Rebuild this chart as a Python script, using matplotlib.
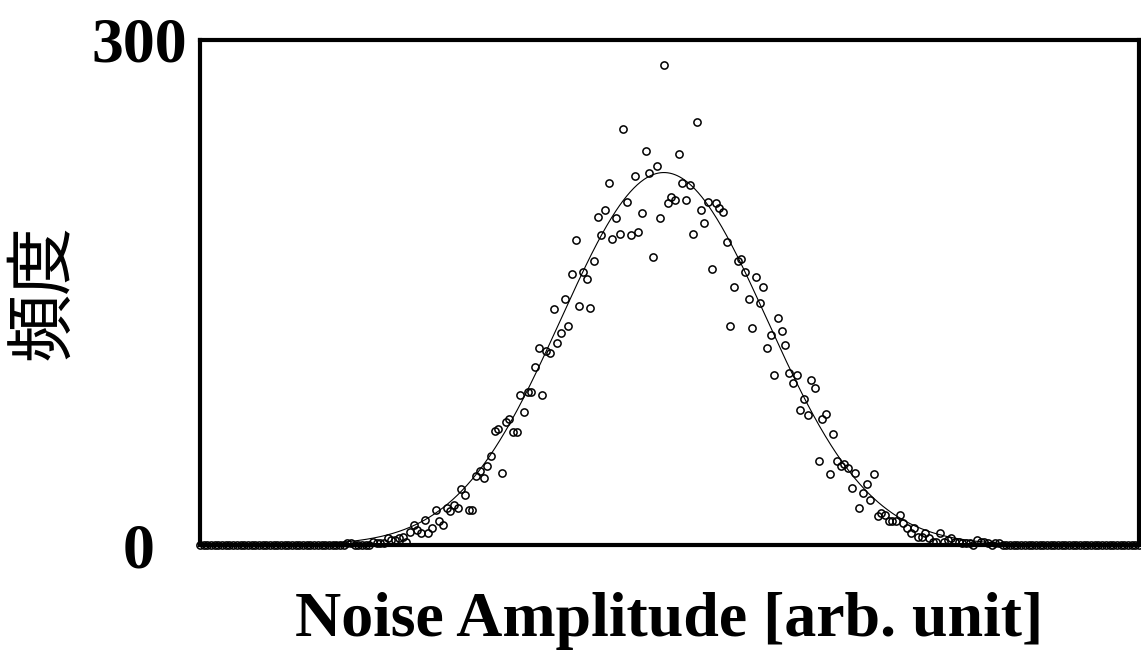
import numpy as np
import matplotlib.pyplot as plt

plt.rcParams['font.family'] = ['Liberation Serif', 'DejaVu Serif']

# histogram counts, one per amplitude bin (256 bins)
counts = ([0] * 40 +
          [1, 1, 0, 0, 0, 0, 0, 2, 1, 1,
           1, 4, 3, 3, 4, 5, 2, 8, 12, 9,
           7, 15, 7, 10, 21, 14, 12, 22, 20, 24,
           22, 33, 30, 21, 21, 41, 44, 40, 47, 53,
           68, 69, 43, 73, 75, 67, 67, 89, 79, 91,
           91, 106, 117, 89, 115, 114, 140, 120, 126, 146,
           130, 161, 181, 142, 162, 158, 141, 169, 195, 184,
           199, 215, 182, 194, 185, 247, 204, 184, 219, 186,
           197, 234, 221, 171, 225, 194, 285, 203, 207, 205,
           232, 215, 205, 214, 185, 251, 199, 191, 204, 164,
           203, 200, 198, 180, 130, 153, 169, 170, 162, 146,
           129, 159, 144, 153, 117, 125, 101, 135, 127, 119,
           102, 96, 101, 80, 87, 77, 98, 93, 50, 75,
           78, 42, 66, 50, 47, 48, 46, 34, 43, 22,
           31, 36, 27, 42, 17, 19, 18, 14, 14, 14,
           18, 13, 10, 7, 10, 5, 5, 7, 4, 2,
           2, 7, 2, 3, 4, 2, 2, 1, 1, 1,
           0, 3, 2, 2, 1, 0, 1, 1] +
          [0] * 38)

ytick_vals = [0, 300]
ytick_labels = ['0', '300']
xlabel = 'Noise Amplitude [arb. unit]'
ylabel = '頻度'

x = np.arange(len(counts))
y = np.array(counts, dtype=float)

# gaussian fit: weighted parabola on log of the counts
m = y > 0
c2, c1, c0 = np.polyfit(x[m], np.log(y[m]), 2, w=y[m])
mu = -c1 / (2 * c2)
sigma = np.sqrt(-1 / (2 * c2))
amp = np.exp(c0 - c1 ** 2 / (4 * c2))
xf = np.linspace(0, len(counts) - 1, 800)
yf = amp * np.exp(-(xf - mu) ** 2 / (2 * sigma ** 2))

fig = plt.figure(figsize=(11.41, 6.5), dpi=100)
ax = fig.add_axes([200 / 1141, 105 / 650, 939 / 1141, 505 / 650])

ax.plot(xf, yf, color='black', lw=0.8, zorder=2)
ax.plot(x, y, 'o', mfc='none', mec='black', ms=5.2, mew=1.1,
        clip_on=False, zorder=3)

ax.set_xlim(0, len(counts) - 1)
ax.set_ylim(0, 300)
ax.set_xticks([])
ax.set_yticks(ytick_vals)
ax.set_yticklabels(ytick_labels, fontsize=46, fontweight='bold')
ax.tick_params(axis='y', length=0, pad=44)
for lab in ax.get_yticklabels():
    lab.set_ha('center')

for s in ax.spines.values():
    s.set_linewidth(3)

ax.set_xlabel(xlabel, fontsize=46, fontweight='bold', labelpad=34)
ax.set_ylabel(ylabel, fontsize=49, family=['Noto Sans CJK JP', 'DejaVu Sans'],
              labelpad=9)

fig.savefig('out.png', dpi=100)
